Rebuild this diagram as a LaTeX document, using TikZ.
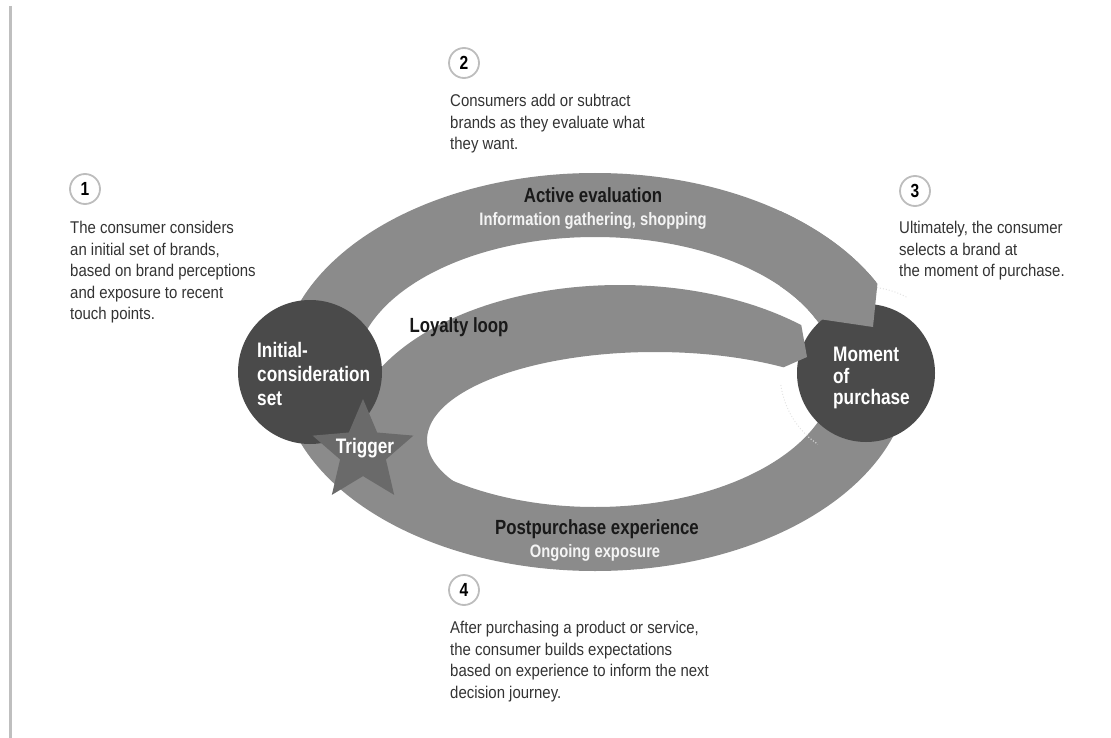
\documentclass[tikz,border=0pt]{standalone}
\usepackage{fontspec}
\setmainfont{Liberation Sans}[FakeStretch=0.88]
\newfontfamily\condbold{Liberation Sans}[FakeStretch=0.82]
\usetikzlibrary{shapes.geometric}
\definecolor{bandgray}{HTML}{8B8B8B}
\definecolor{discgray}{HTML}{4A4A4A}
\definecolor{stargray}{HTML}{6A6A6A}
\definecolor{bodyink}{HTML}{333333}
\definecolor{ringgray}{HTML}{BDBDBD}
\definecolor{labelwhite}{HTML}{F4F4F4}
\begin{document}
\begin{tikzpicture}[x=1pt,y=-1pt,
  outer ring/.style={insert path={(595,372) ellipse [x radius=315pt, y radius=199pt]}},
  inner ring/.style={insert path={(595,372) ellipse [x radius=240pt, y radius=135pt]}},
  inner ring wide/.style={insert path={(595,372) ellipse [x radius=242pt, y radius=137pt]}},
  loop outer/.style={insert path={(620,440) ellipse [x radius=270pt, y radius=155pt]}},
  loop inner/.style={insert path={(655,440) ellipse [x radius=228pt, y radius=88pt]}},
  disc/.style={circle, fill=discgray, inner sep=0pt},
  numdisc/.style={circle, draw=ringgray, line width=1.8pt, fill=white, minimum size=30pt,
    inner sep=0pt, text=black, font=\condbold\bfseries\fontsize{19}{19}\selectfont},
  note/.style={anchor=north west, inner sep=0pt, align=left, text=bodyink,
    font=\fontsize{17}{21.5}\selectfont},
  bandtitle/.style={anchor=base, inner sep=0pt, text=black!90,
    font=\condbold\bfseries\fontsize{20.5}{20.5}\selectfont},
  bandsub/.style={anchor=base, inner sep=0pt, text=labelwhite,
    font=\condbold\bfseries\fontsize{18}{18}\selectfont},
  disctext/.style={anchor=north west, inner sep=0pt, align=left, text=white,
    font=\condbold\bfseries\fontsize{21}{24}\selectfont},
  halo/.style={gray!22, dotted, line width=1pt},
]
\useasboundingbox (0,0) rectangle (1111,738);

% page rule on the left
\draw[line width=3pt, gray!50] (10,6) -- (10,738);

% outer ring: active evaluation on top, postpurchase experience below
\fill[bandgray, even odd rule, outer ring, inner ring];
% open space past the head of the upper band
\fill[white] (878,250) -- (873,327) -- (950,327) -- (950,250) -- cycle;
% faint dotted traces round the purchase disc
\draw[halo] (866,373) ++(62:86pt) arc[start angle=62, end angle=100, radius=86pt];
\draw[halo] (866,373) ++(188:86pt) arc[start angle=188, end angle=236, radius=86pt];

% moment of purchase
\node[disc, minimum size=138pt] (moment) at (866,373) {};

% head of the upper band, lying over the disc
\begin{scope}
  \clip (780,200) -- (884,200) -- (878,278) -- (873,327) -- (812,318) -- (780,300) -- cycle;
  \fill[bandgray, even odd rule, outer ring, inner ring];
\end{scope}

% loyalty loop band with its pointed end
\begin{scope}
  \clip[inner ring wide];
  \clip (0,0) -- (800,0) -- (800,318) -- (807,357) -- (782,368) -- (782,738) -- (0,738) -- cycle;
  \fill[bandgray, even odd rule, loop outer, loop inner];
\end{scope}

% initial-consideration set and trigger
\node[disc, minimum size=144pt] (initial) at (310,372) {};
\node[star, star points=5, star point ratio=2.2, minimum size=106pt, inner sep=0pt,
  fill=stargray] (trigger) at (363,452) {};

% labels on the discs and the star
\node[disctext] (initialtext) at (257,342) {Initial-\\consideration\\set};
\node[disctext, font=\condbold\bfseries\fontsize{21}{21.5}\selectfont] (momenttext)
  at (833,347) {Moment\\of\\purchase};
\node[anchor=base, inner sep=0pt, text=white,
  font=\condbold\bfseries\fontsize{21}{21}\selectfont] (triggertext) at (365,453) {Trigger};

% labels on the bands
\node[bandtitle] (activetitle) at (593,203) {Active evaluation};
\node[bandsub] (activesub) at (593,225.5) {Information gathering, shopping};
\node[bandtitle] (loyaltytitle) at (459,332) {Loyalty loop};
\node[bandtitle] (posttitle) at (597,534) {Postpurchase experience};
\node[bandsub] (postsub) at (595,557.5) {Ongoing exposure};

% numbered notes
\node[numdisc] (n1) at (85,189) {1};
\node[note] (note1) at (70,221) {The consumer considers\\an initial set of brands,\\based on brand perceptions\\and exposure to recent\\touch points.};

\node[numdisc] (n2) at (464,63) {2};
\node[note] (note2) at (450,94) {Consumers add or subtract\\brands as they evaluate what\\they want.};

\node[numdisc] (n3) at (915,191) {3};
\node[note] (note3) at (899,221) {Ultimately, the consumer\\selects a brand at\\the moment of purchase.};

\node[numdisc] (n4) at (464,590) {4};
\node[note] (note4) at (450,621) {After purchasing a product or service,\\the consumer builds expectations\\based on experience to inform the next\\decision journey.};
\end{tikzpicture}
\end{document}
